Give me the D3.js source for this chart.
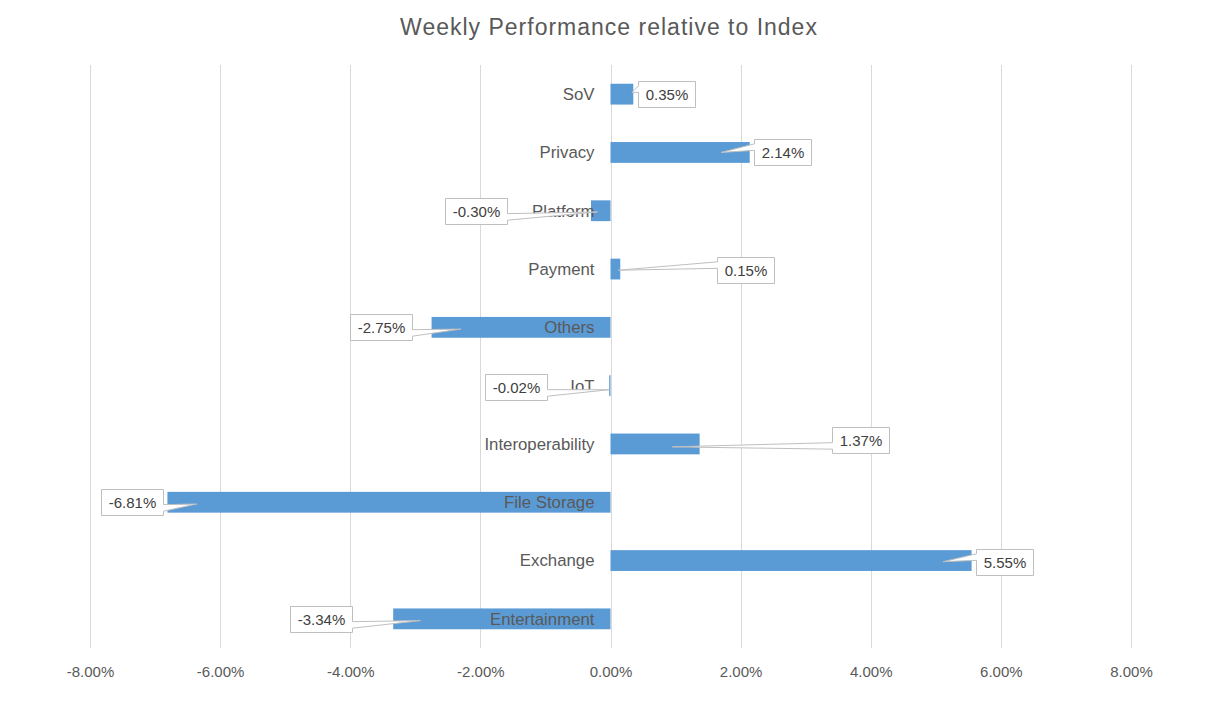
<!DOCTYPE html>
<html>
<head>
<meta charset="utf-8">
<script src="https://cdn.jsdelivr.net/npm/d3@7"></script>
<style>
    body { margin: 0; background: #ffffff; }
    text { font-family: "Liberation Sans", Arial, sans-serif; }
</style>
</head>
<body>
<svg id="chart" width="1215" height="705"></svg>
<script>

// chart data (percent)
var categories = ["SoV", "Privacy", "Platform", "Payment", "Others", "IoT",
                  "Interoperability", "File Storage", "Exchange", "Entertainment"];
var values = [0.35, 2.14, -0.30, 0.15, -2.75, -0.02, 1.37, -6.81, 5.55, -3.34];
var tickValues = [-8, -6, -4, -2, 0, 2, 4, 6, 8];

// where each callout label was dragged to, in axis units (x) and band fractions (dy)
var calloutX = [0.86, 2.64, -2.07, 2.07, -3.53, -1.45, 3.85, -7.36, 6.05, -4.45];
var calloutDy = [0, 0, 0, 0.02, 0, 0.03, -0.07, 0, 0.03, 0.01];
// where each callout pointer ends inside its bar
var pointerX = [0.33, 1.70, -0.20, 0.12, -2.30, -0.02, 0.95, -6.36, 5.11, -2.92];
var pointerDy = [-0.03, 0, 0.02, 0.02, 0.03, 0.07, 0.05, 0.03, 0.02, 0.03];

// plain hyphen for negatives, like the spreadsheet does
var locale = d3.formatLocale({
    decimal: ".", thousands: ",", grouping: [3], currency: ["", ""], minus: "-"
});
var pct = function(d) { return locale.format(".2f")(d) + "%"; };

var svg = d3.select("#chart");

var margin = {top: 65, right: 84, bottom: 57, left: 90};
var width = 1215 - margin.left - margin.right,
    height = 705 - margin.top - margin.bottom;

var x = d3.scaleLinear()
    .domain([-8, 8])
    .range([margin.left, margin.left + width]);

var y = d3.scaleBand()
    .domain(categories)
    .range([margin.top, margin.top + height]);

var barHeight = y.bandwidth() / 2.8;

// title
svg.append("text")
    .attr("x", 609)
    .attr("y", 35)
    .attr("text-anchor", "middle")
    .attr("fill", "#595959")
    .style("font-size", "23px")
    .style("letter-spacing", "1px")
    .text("Weekly Performance relative to Index");

// vertical gridlines
svg.append("g")
    .selectAll("line")
    .data(tickValues)
    .enter().append("line")
    .attr("x1", function(d) { return Math.round(x(d)) + 0.5; })
    .attr("x2", function(d) { return Math.round(x(d)) + 0.5; })
    .attr("y1", margin.top)
    .attr("y2", margin.top + height)
    .attr("stroke", "#d9d9d9")
    .attr("stroke-width", 1);

// x axis labels
var xAxis = d3.axisBottom(x)
    .tickValues(tickValues)
    .tickSize(0)
    .tickPadding(0)
    .tickFormat(pct);

var axisG = svg.append("g")
    .attr("transform", "translate(0," + (margin.top + height) + ")")
    .call(xAxis);

axisG.select(".domain").remove();
axisG.selectAll("text")
    .attr("y", 29)
    .attr("dy", 0)
    .attr("fill", "#595959")
    .style("font-family", "\"Liberation Sans\", Arial, sans-serif")
    .style("font-size", "15px");

// bars
svg.append("g")
    .selectAll("rect")
    .data(values)
    .enter().append("rect")
    .attr("x", function(d) { return x(Math.min(0, d)); })
    .attr("width", function(d) { return Math.abs(x(d) - x(0)); })
    .attr("y", function(d, i) { return y(categories[i]) + (y.bandwidth() - barHeight) / 2; })
    .attr("height", barHeight)
    .attr("fill", "#5b9bd5");

// category labels sit just left of the zero line
svg.append("g")
    .selectAll("text")
    .data(categories)
    .enter().append("text")
    .attr("x", x(0) - 16)
    .attr("y", function(d) { return y(d) + y.bandwidth() / 2; })
    .attr("dy", "0.35em")
    .attr("text-anchor", "end")
    .attr("fill", "#595959")
    .style("font-size", "16.8px")
    .text(function(d) { return d; });

// rectangle callout with wedge, same idea as the office wedgeRectCallout shape
function calloutPath(l, t, w, h, px, py) {
    var r = l + w, b = t + h;
    var dxPos = px - (l + w / 2),
        dyPos = py - (t + h / 2);
    var dz = Math.abs(dyPos) - Math.abs(dxPos * h / w);
    var x1 = w * (dxPos > 0 ? 7 : 2) / 12,
        x2 = w * (dxPos > 0 ? 10 : 5) / 12,
        y1 = h * (dyPos > 0 ? 7 : 2) / 12,
        y2 = h * (dyPos > 0 ? 10 : 5) / 12;
    var tip = px + "," + py;
    var p = "M" + l + "," + t;
    if (dz > 0 && dyPos < 0)
        p += "L" + (l + x1) + "," + t + "L" + tip + "L" + (l + x2) + "," + t;
    p += "L" + r + "," + t;
    if (dz <= 0 && dxPos > 0)
        p += "L" + r + "," + (t + y1) + "L" + tip + "L" + r + "," + (t + y2);
    p += "L" + r + "," + b;
    if (dz > 0 && dyPos > 0)
        p += "L" + (l + x2) + "," + b + "L" + tip + "L" + (l + x1) + "," + b;
    p += "L" + l + "," + b;
    if (dz <= 0 && dxPos < 0)
        p += "L" + l + "," + (t + y2) + "L" + tip + "L" + l + "," + (t + y1);
    return p + "Z";
}

var callouts = svg.append("g")
    .selectAll("g")
    .data(values)
    .enter().append("g");

callouts.each(function(d, i) {
    var g = d3.select(this);
    var cy = y(categories[i]) + y.bandwidth() / 2;

    var label = g.append("text")
        .attr("text-anchor", "middle")
        .attr("dy", "0.35em")
        .attr("fill", "#404040")
        .style("font-size", "15px")
        .text(pct(d));

    var tw = label.node().getComputedTextLength();
    var bw = Math.round(tw + 14),
        bh = 26;
    var bx = Math.round(x(calloutX[i]) - bw / 2) + 0.5,
        by = Math.round(cy + calloutDy[i] * y.bandwidth() - bh / 2) + 0.5;

    var px = x(pointerX[i]),
        py = cy + pointerDy[i] * y.bandwidth();

    g.insert("path", "text")
        .attr("d", calloutPath(bx, by, bw, bh, px, py))
        .attr("fill", "#ffffff")
        .attr("stroke", "#bfbfbf")
        .attr("stroke-width", 1);

    label.attr("x", bx + bw / 2)
        .attr("y", by + bh / 2);
});

</script>
</body>
</html>
